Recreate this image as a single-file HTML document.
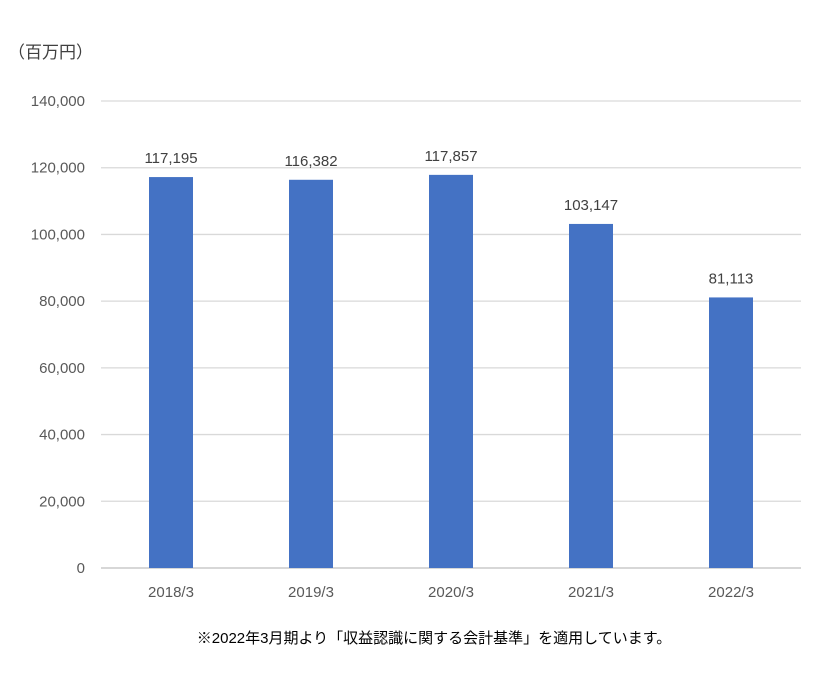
<!DOCTYPE html>
<html><head><meta charset="utf-8"><style>
body{margin:0;background:#fff;width:823px;height:673px;overflow:hidden}
svg text{font-family:"Liberation Sans","Noto Sans CJK JP",sans-serif}
</style></head><body>
<svg id="chart" width="823" height="673" xmlns="http://www.w3.org/2000/svg">
<text x="8" y="58" font-size="17" fill="#404040">（百万円）</text>
<g id="grid"></g><g id="bars"></g><g id="labels"></g>
<text x="434" y="643" font-size="15" fill="#000" text-anchor="middle">※2022年3月期より「収益認識に関する会計基準」を適用しています。</text>
</svg>
<script>
const categories=["2018/3","2019/3","2020/3","2021/3","2022/3"];
const values=[117195,116382,117857,103147,81113];
const valueLabels=["117,195","116,382","117,857","103,147","81,113"];
const yTicks=[0,20000,40000,60000,80000,100000,120000,140000];
const yTickLabels=["0","20,000","40,000","60,000","80,000","100,000","120,000","140,000"];
const NS="http://www.w3.org/2000/svg";
const x0=101,x1=801,yb=568,yt=101,ymax=140000;
const y=v=>yb-(v/ymax)*(yb-yt);
const band=(x1-x0)/categories.length;
const xc=i=>x0+band*(i+0.5);
function mk(t,a,p){const e=document.createElementNS(NS,t);for(const k in a)e.setAttribute(k,a[k]);document.getElementById(p).appendChild(e);return e;}
yTicks.forEach((t,i)=>{
 const l=mk("line",{x1:x0,x2:x1,y1:y(t),y2:y(t),stroke:i==0?"#bfbfbf":"#d9d9d9","stroke-width":1.3},"grid");
 
 
 const tx=mk("text",{x:85,y:y(t)+5,"font-size":15,fill:"#595959","text-anchor":"end"},"grid");
 tx.textContent=yTickLabels[i];
 
 
});
categories.forEach((c,i)=>{
 const w=44;
 const r=mk("rect",{x:xc(i)-w/2,y:y(values[i]),width:w,height:yb-y(values[i]),fill:"#4472c4"},"bars");
 
 
 const v=mk("text",{x:xc(i),y:y(values[i])-14,"font-size":15,fill:"#404040","text-anchor":"middle"},"labels");
 v.textContent=valueLabels[i];
 
 
 const cl=mk("text",{x:xc(i),y:597,"font-size":15,fill:"#595959","text-anchor":"middle"},"labels");
 cl.textContent=c;
 
 
});
</script>
</body></html>
